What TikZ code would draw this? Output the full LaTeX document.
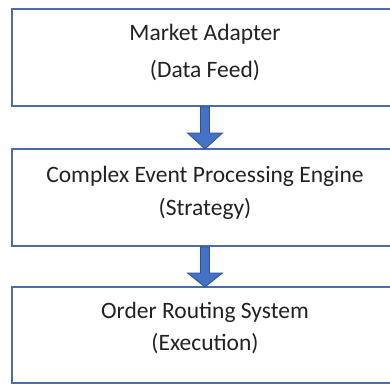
\documentclass[tikz,border=0pt]{standalone}
\usepackage{fontspec}
\setmainfont{Carlito}
\usetikzlibrary{calc}
\definecolor{boxline}{HTML}{4A6CAA}
\definecolor{arrowfill}{HTML}{4472C4}
\definecolor{arrowline}{HTML}{2F528F}
\definecolor{textcol}{HTML}{222222}
\tikzset{
  stage/.style={draw=boxline, line width=2pt, fill=white, rectangle,
    minimum width=386pt, inner sep=0pt},
  caption/.style={inner sep=0pt, align=center, text=textcol,
    font=\fontsize{23.5}{#1}\selectfont},
  caption/.default=37,
  flowarrow/.style={fill=arrowfill, draw=arrowline, line width=0.8pt, line join=miter}
}
\begin{document}
\begin{tikzpicture}[x=1pt, y=-1pt]
  \clip (0,0) rectangle (390,383);
  \fill[white] (0,0) rectangle (390,383);
  \node[stage, minimum height=97pt] (feed) at (205,57.5) {};
  \node[stage, minimum height=97pt] (cep) at (205,197.5) {};
  \node[stage, minimum height=96pt] (ors) at (205,335) {};
  \node[caption=37] (feedtext) at ($(feed.center)+(0,-5)$) {Market Adapter\\(Data Feed)};
  \node[caption=33] (ceptext) at ($(cep.center)+(0,-5)$) {Complex Event Processing Engine\\(Strategy)};
  \node[caption=32] (orstext) at ($(ors.center)+(0,-7)$) {Order Routing System\\(Execution)};
  % block arrows between the stages
  \foreach \a/\b in {feed/cep, cep/ors} {
    \draw[flowarrow]
      ($(\a.south)+(-4.5,0)$) -- ($(\a.south)+(-4.5,26)$) -- ($(\a.south)+(-17.5,26)$)
      -- ($(\b.north)+(0,1)$)
      -- ($(\a.south)+(17.5,26)$) -- ($(\a.south)+(4.5,26)$) -- ($(\a.south)+(4.5,0)$) -- cycle;
  }
\end{tikzpicture}
\end{document}
